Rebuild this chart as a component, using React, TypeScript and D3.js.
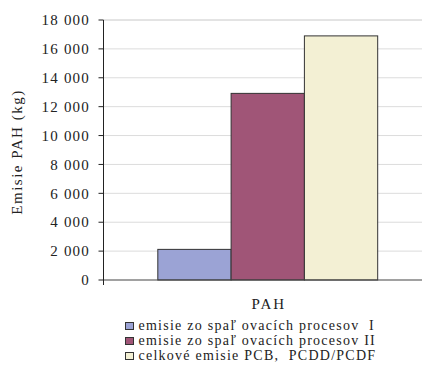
import React from "react";
import * as d3 from "d3";

const categories = ["PAH"];
const seriesNames = [
  "emisie zo spaľ ovacích procesov  I",
  "emisie zo spaľ ovacích procesov II",
  "celkové emisie PCB,  PCDD/PCDF",
];
const seriesValues = [2120, 12920, 16900];
const seriesColors = ["#9ba3d5", "#a05577", "#f3f0d4"];
const yTicks = [0, 2000, 4000, 6000, 8000, 10000, 12000, 14000, 16000, 18000];
const yTitle = "Emisie PAH (kg)";

const W = 422;
const H = 365;
const left = 103.5;
const right = 432;
const top = 20;
const bottom = 280;

const font = { fontFamily: '"Liberation Serif"', whiteSpace: "pre" as const };

export default function App() {
  const y = d3.scaleLinear().domain([0, 18000]).range([bottom, top]);
  const x0 = d3.scaleBand().domain(categories).range([left, right]).paddingInner(0).paddingOuter(0.247);
  const x1 = d3
    .scaleBand()
    .domain(seriesNames)
    .range([0, x0.bandwidth()])
    .padding(0);
  const fmt = (v: number) => d3.format(",")(v).replace(/,/g, " ");
  return (
    <svg
      width={W}
      height={H}
      style={{ position: "absolute", left: 0, top: 0, background: "#fff" }}
    >
      {yTicks.map((t) => (
        <g key={t}>
          {t > 0 && (
            <line
              x1={left}
              x2={right}
              y1={y(t)}
              y2={y(t)}
              stroke={t === 18000 ? "#c8c8c8" : "#dcdcdc"}
              strokeWidth={1}
            />
          )}
          <line x1={left - 5} x2={left} y1={y(t)} y2={y(t)} stroke="#222" strokeWidth={1} />
          <text x={90} y={y(t)} dy="0.35em" textAnchor="end" fontSize={15} letterSpacing={1.2} fill="#222" style={font}>
            {fmt(t)}
          </text>
        </g>
      ))}
      {categories.map((c) =>
        seriesNames.map((s, i) => {
          const x = (x0(c) ?? 0) + (x1(s) ?? 0);
          return (
            <rect
              key={s}
              x={x}
              y={y(seriesValues[i])}
              width={x1.bandwidth()}
              height={bottom - y(seriesValues[i])}
              fill={seriesColors[i]}
              stroke="#333"
              strokeWidth={1}
            />
          );
        })
      )}
      <line x1={left} x2={right} y1={bottom} y2={bottom} stroke="#444" strokeWidth={1.2} />
      <line x1={left} x2={left} y1={top} y2={bottom + 5} stroke="#222" strokeWidth={1} />
      {categories.map((c) => (
        <text
          key={c}
          x={(x0(c) ?? 0) + x0.bandwidth() / 2 + 1}
          y={309}
          textAnchor="middle"
          fontSize={15}
          letterSpacing={2}
          fill="#222"
          style={font}
        >
          {c}
        </text>
      ))}
      <text
        transform={`translate(22,${152}) rotate(-90)`}
        textAnchor="middle"
        fontSize={15}
        letterSpacing={1.5}
        fill="#222"
        style={font}
      >
        {yTitle}
      </text>
      {seriesNames.map((s, i) => (
        <g key={s} transform={`translate(125.5,${322.5 + i * 15})`}>
          <rect x={0} y={0} width={8} height={7} fill={seriesColors[i]} stroke="#333" strokeWidth={1} />
          <text x={13} y={7.5} fontSize={14} letterSpacing={1.25} fill="#222" style={font}>
            {s}
          </text>
        </g>
      ))}
    </svg>
  );
}
